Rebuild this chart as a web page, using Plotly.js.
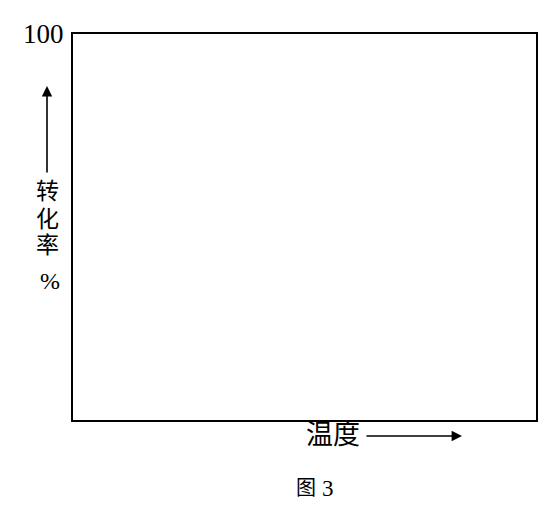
<!DOCTYPE html>
<html>
<head>
<meta charset="utf-8">
<script src="https://cdn.plot.ly/plotly-3.0.1.min.js"></script>
<style>html,body{margin:0;padding:0;background:#fff;}#chart{width:557px;height:514px;}</style>
</head>
<body>
<div id="chart"></div>
<script>
// Data / labels
const yTickVals = [100];
const yTickText = ["100"];
const yLabelChars = ["转", "化", "率", "%"];
const xLabel = "温度";
const captionParts = ["图", "3"];

const FONT = "Liberation Serif, Noto Sans CJK SC, serif";
const SERIF = "Liberation Serif";
const W = 557, H = 514;
const L = 73, R = 21, T = 34, B = 94;
const pw = W - L - R, ph = H - T - B;
function px(x) { return (x - L) / pw; }
function py(y) { return (H - B - y) / ph; }

const charY = [191, 219, 246, 281];
const charX = [47, 47, 47, 50];
const annotations = [];
yLabelChars.forEach((c, i) => {
  annotations.push({
    xref: 'paper', yref: 'paper', x: px(charX[i]), y: py(charY[i]),
    text: c, showarrow: false, xanchor: 'center', yanchor: 'middle',
    font: {family: c === '%' ? SERIF : FONT, size: c === '%' ? 24 : 23, color: '#000'}
  });
});
// y arrow
annotations.push({
  xref: 'paper', yref: 'paper', x: px(47), y: py(86), ax: 0, ay: 88,
  text: '', showarrow: true, arrowhead: 2, arrowsize: 1.3, arrowwidth: 1.6, arrowcolor: '#000', standoff: 0
});
// x label
annotations.push({
  xref: 'paper', yref: 'paper', x: px(333), y: py(435),
  text: xLabel, showarrow: false, xanchor: 'center', yanchor: 'middle',
  font: {family: FONT, size: 27, color: '#000'}
});
// x arrow
annotations.push({
  xref: 'paper', yref: 'paper', x: px(462), y: py(436), ax: -97, ay: 0,
  text: '', showarrow: true, arrowhead: 2, arrowsize: 1.3, arrowwidth: 1.6, arrowcolor: '#000', standoff: 0
});
// caption
annotations.push({
  xref: 'paper', yref: 'paper', x: px(306), y: py(488),
  text: captionParts[0], showarrow: false, xanchor: 'center', yanchor: 'middle',
  font: {family: FONT, size: 20, color: '#000'}
});
annotations.push({
  xref: 'paper', yref: 'paper', x: px(327.5), y: py(488),
  text: captionParts[1], showarrow: false, xanchor: 'center', yanchor: 'middle',
  font: {family: SERIF, size: 23, color: '#000'}
});

const layout = {
  width: W, height: H,
  margin: {l: L, r: R, t: T, b: B, pad: 0},
  paper_bgcolor: '#fff', plot_bgcolor: '#fff',
  showlegend: false,
  font: {family: FONT, color: '#000'},
  xaxis: {range: [0, 1], showgrid: false, zeroline: false, showticklabels: false, ticks: '',
          showline: true, mirror: true, linecolor: '#000', linewidth: 2, fixedrange: true},
  yaxis: {range: [0, 100], showgrid: false, zeroline: false,
          ticks: 'outside', ticklen: 2, tickcolor: 'rgba(0,0,0,0)',
          tickmode: 'array', tickvals: yTickVals, ticktext: yTickText,
          tickfont: {family: FONT, size: 27, color: '#000'},
          showline: true, mirror: true, linecolor: '#000', linewidth: 2, fixedrange: true},
  annotations: annotations
};

Plotly.newPlot('chart', [{x: [], y: [], type: 'scatter', mode: 'lines'}], layout, {displayModeBar: false, staticPlot: true});
</script>
</body>
</html>
